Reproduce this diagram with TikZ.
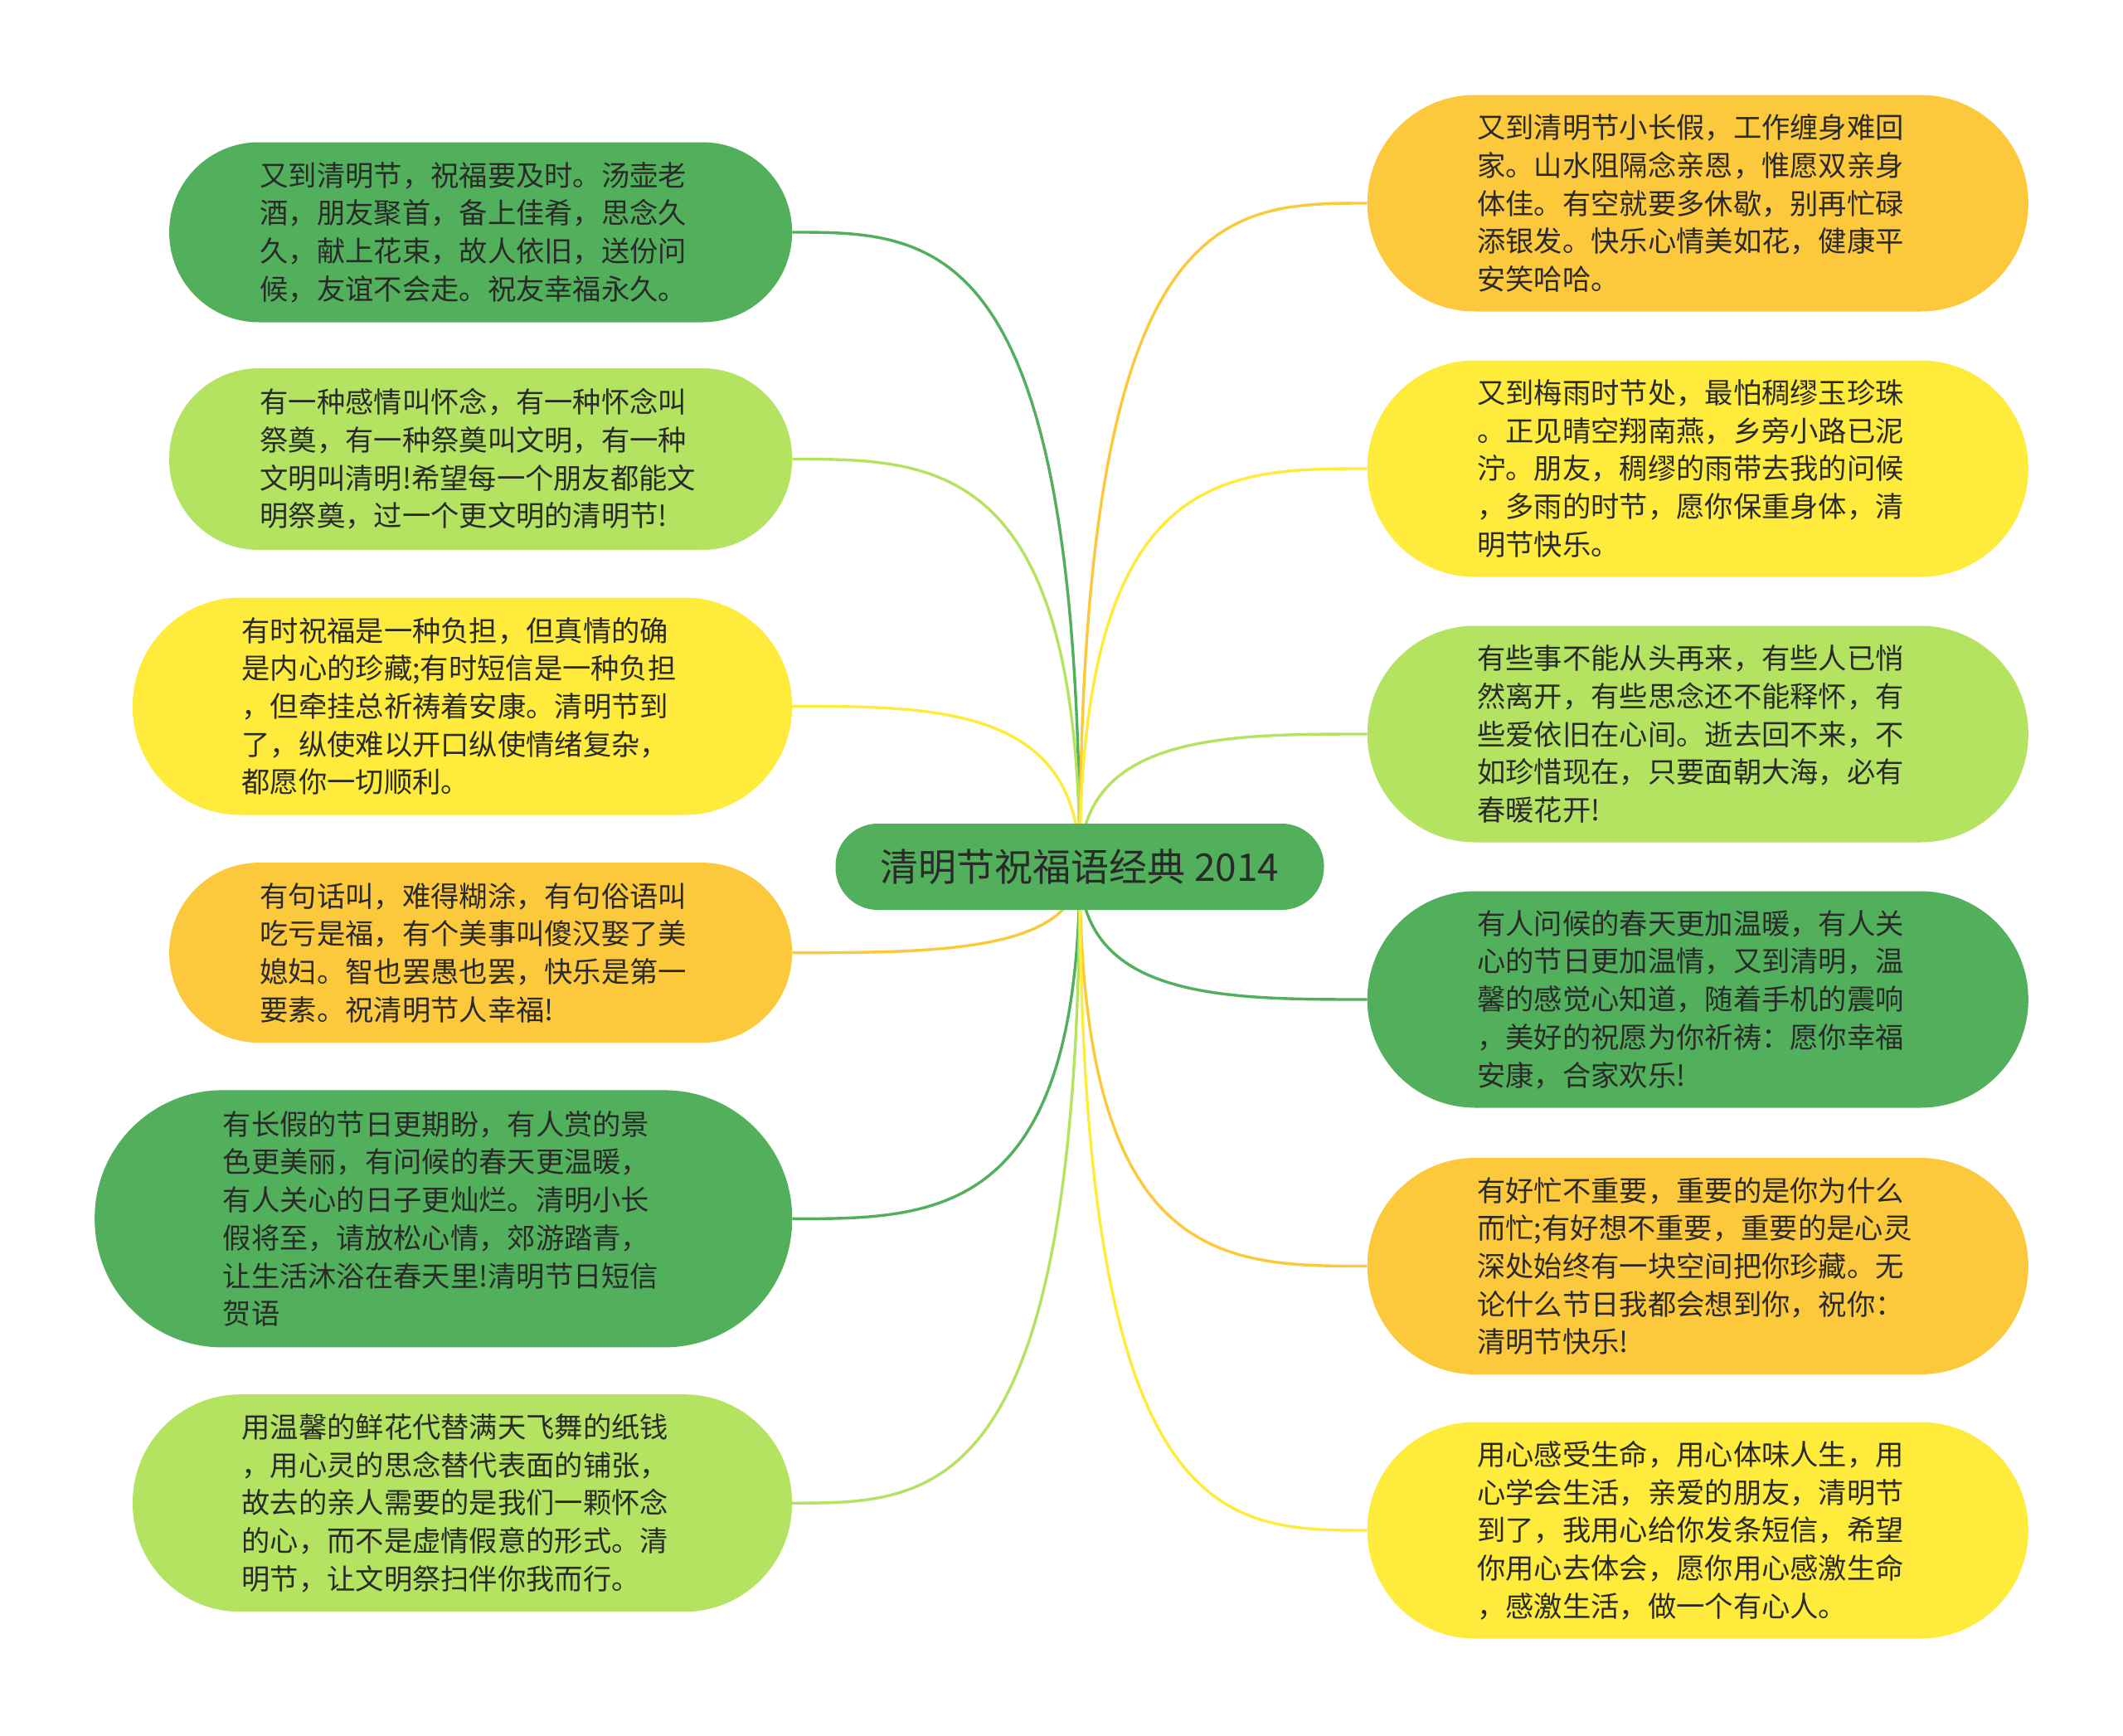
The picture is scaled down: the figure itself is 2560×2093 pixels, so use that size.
\documentclass[tikz,border=0pt]{standalone}
\usepackage{fontspec}
\setmainfont{Noto Sans CJK SC}
\usetikzlibrary{calc,backgrounds}
\definecolor{cdg}{HTML}{52B05C}
\definecolor{clg}{HTML}{B3E360}
\definecolor{cye}{HTML}{FEEB3B}
\definecolor{cor}{HTML}{FDC93C}
\definecolor{ctx}{HTML}{2A2A2A}
\newcommand\lnkto[2]{\draw[lnk,#2] (c.center) .. controls (c.center |- #1) and ($(c.center |- #1)!0.5!(#1)$) .. (#1);}
\begin{document}
\begin{tikzpicture}[x=1pt,y=-1pt,
 bub/.style={rectangle, inner sep=0pt, align=left, text=ctx, text width=532pt, font=\fontsize{34.3}{45.7}\selectfont},
 sml/.style={bub, minimum width=751pt, minimum height=217pt, rounded corners=108pt},
 mid/.style={bub, minimum width=795pt, minimum height=262pt, rounded corners=130pt},
 rgt/.style={bub, minimum width=797pt, minimum height=261pt, rounded corners=130pt},
 lnk/.style={line width=3.4pt},
]
\useasboundingbox (0,0) rectangle (2560,2093);

\node[rectangle, inner sep=0pt, text=ctx, fill=cdg, minimum width=589pt, minimum height=104pt, rounded corners=51pt, font=\fontsize{46}{50}\selectfont] (c) at (1302,1045) {清明节祝福语经典 2014};

\node[sml, fill=cdg] (l1) at (579.6,280) {又到清明节，祝福要及时。汤壶老\\酒，朋友聚首，备上佳肴，思念久\\久，献上花束，故人依旧，送份问\\候，友谊不会走。祝友幸福永久。};
\node[sml, fill=clg, minimum height=219pt] (l2) at (579.6,553.5) {有一种感情叫怀念，有一种怀念叫\\祭奠，有一种祭奠叫文明，有一种\\文明叫清明!希望每一个朋友都能文\\明祭奠，过一个更文明的清明节!};
\node[mid, fill=cye] (l3) at (557.5,851.5) {有时祝福是一种负担，但真情的确\\是内心的珍藏;有时短信是一种负担\\，但牵挂总祈祷着安康。清明节到\\了，纵使难以开口纵使情绪复杂，\\都愿你一切顺利。};
\node[sml, fill=cor] (l4) at (579.6,1148.6) {有句话叫，难得糊涂，有句俗语叫\\吃亏是福，有个美事叫傻汉娶了美\\媳妇。智也罢愚也罢，快乐是第一\\要素。祝清明节人幸福!};
\node[bub, fill=cdg, minimum width=841pt, minimum height=310pt, rounded corners=154pt] (l5) at (534.7,1469.4) {有长假的节日更期盼，有人赏的景\\色更美丽，有问候的春天更温暖，\\有人关心的日子更灿烂。清明小长\\假将至，请放松心情，郊游踏青，\\让生活沐浴在春天里!清明节日短信\\贺语};
\node[mid, fill=clg] (l6) at (557.5,1812.2) {用温馨的鲜花代替满天飞舞的纸钱\\，用心灵的思念替代表面的铺张，\\故去的亲人需要的是我们一颗怀念\\的心，而不是虚情假意的形式。清\\明节，让文明祭扫伴你我而行。};

\node[rgt, fill=cor] (r1) at (2047.3,245) {又到清明节小长假，工作缠身难回\\家。山水阻隔念亲恩，惟愿双亲身\\体佳。有空就要多休歇，别再忙碌\\添银发。快乐心情美如花，健康平\\安笑哈哈。};
\node[rgt, fill=cye] (r2) at (2047.3,565) {又到梅雨时节处，最怕稠缪玉珍珠\\。正见晴空翔南燕，乡旁小路已泥\\泞。朋友，稠缪的雨带去我的问候\\，多雨的时节，愿你保重身体，清\\明节快乐。};
\node[rgt, fill=clg] (r3) at (2047.3,885) {有些事不能从头再来，有些人已悄\\然离开，有些思念还不能释怀，有\\些爱依旧在心间。逝去回不来，不\\如珍惜现在，只要面朝大海，必有\\春暖花开!};
\node[rgt, fill=cdg] (r4) at (2047.3,1205) {有人问候的春天更加温暖，有人关\\心的节日更加温情，又到清明，温\\馨的感觉心知道，随着手机的震响\\，美好的祝愿为你祈祷：愿你幸福\\安康，合家欢乐!};
\node[rgt, fill=cor] (r5) at (2047.3,1526.5) {有好忙不重要，重要的是你为什么\\而忙;有好想不重要，重要的是心灵\\深处始终有一块空间把你珍藏。无\\论什么节日我都会想到你，祝你：\\清明节快乐!};
\node[rgt, fill=cye] (r6) at (2047.3,1845) {用心感受生命，用心体味人生，用\\心学会生活，亲爱的朋友，清明节\\到了，我用心给你发条短信，希望\\你用心去体会，愿你用心感激生命\\，感激生活，做一个有心人。};

\begin{pgfonlayer}{background}
\fill[white] (0,0) rectangle (2560,2093);
\lnkto{l1.east}{cdg}
\lnkto{l2.east}{clg}
\lnkto{l3.east}{cye}
\lnkto{l4.east}{cor}
\lnkto{l5.east}{cdg}
\lnkto{l6.east}{clg}
\lnkto{r1.west}{cor}
\lnkto{r2.west}{cye}
\lnkto{r3.west}{clg}
\lnkto{r4.west}{cdg}
\lnkto{r5.west}{cor}
\lnkto{r6.west}{cye}
\end{pgfonlayer}
\end{tikzpicture}
\end{document}
